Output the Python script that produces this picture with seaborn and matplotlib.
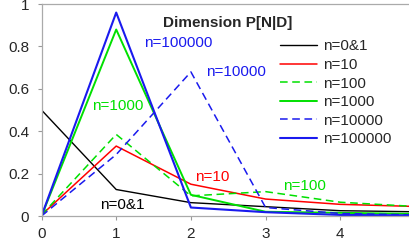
import matplotlib
matplotlib.use("Agg")
import matplotlib.pyplot as plt
import seaborn as sns

# number of dimensions (x axis)
dims = [0, 1, 2, 3, 4, 5]

# P[N|D] per sample size n
p_n0_1 = [0.50, 0.125, 0.063, 0.044, 0.025, 0.020]
p_n10 = [0.005, 0.33, 0.150, 0.080, 0.055, 0.045]
p_n100 = [0.005, 0.385, 0.095, 0.115, 0.065, 0.045]
p_n1000 = [0.0, 0.88, 0.100, 0.020, 0.015, 0.010]
p_n10000 = [0.0, 0.29, 0.68, 0.040, 0.012, 0.005]
p_n100000 = [0.0, 0.96, 0.040, 0.018, 0.005, 0.003]

labels = ["n=0&1", "n=10", "n=100", "n=1000", "n=10000", "n=100000"]
series = [p_n0_1, p_n10, p_n100, p_n1000, p_n10000, p_n100000]
colors = ["black", "#ff0000", "#00e000", "#00e000", "#1a1aee", "#1a1aee"]
styles = ["-", "-", (0, (5, 3)), "-", (0, (5, 3)), "-"]
widths = [1.0, 1.1, 1.1, 1.4, 1.1, 1.5]

sns.set_style("white")
plt.rcParams["font.family"] = ["Liberation Sans", "DejaVu Sans"]

fig = plt.figure(figsize=(4.09, 2.40), dpi=100)
ax = fig.add_axes([0.1015, 0.10, 0.8985, 0.883])

for vals, lab, col, ls, lw in zip(series, labels, colors, styles, widths):
    sns.lineplot(x=dims, y=vals, color=col, linestyle=ls, linewidth=lw,
                 label=lab, ax=ax)

ax.set_xlim(0, 4.92)
ax.set_ylim(0, 1)
ax.set_xticks([0, 1, 2, 3, 4])
ax.set_yticks([0, 0.2, 0.4, 0.6, 0.8, 1])
ax.set_yticklabels(["0", "0.2", "0.4", "0.6", "0.8", "1"])
ax.tick_params(axis="both", labelsize=11, length=3, width=0.8,
               color="#999999", direction="out", left=True, bottom=True)
ax.tick_params(axis="y", pad=6)
ax.tick_params(axis="x", pad=5)
for side in ["left", "bottom", "top"]:
    ax.spines[side].set_color("#aaaaaa")
    ax.spines[side].set_linewidth(0.9)
ax.spines["right"].set_visible(False)

# annotations
ax.text(1.62, 0.91, "Dimension P[N|D]", fontsize=11, fontweight="bold",
        va="center", ha="left")
ax.text(1.37, 0.815, "n=100000", color="#1a1aee", fontsize=11, va="center")
ax.text(2.2, 0.678, "n=10000", color="#1a1aee", fontsize=11, va="center")
ax.text(0.675, 0.52, "n=1000", color="#00e000", fontsize=11, va="center")
ax.text(2.05, 0.185, "n=10", color="#ff0000", fontsize=11, va="center")
ax.text(3.24, 0.142, "n=100", color="#00e000", fontsize=11, va="center")
ax.text(0.78, 0.052, "n=0&1", color="black", fontsize=11, va="center")

ax.legend(loc="upper left", bbox_to_anchor=(0.685, 0.836),
          bbox_transform=fig.transFigure, frameon=False, fontsize=11,
          handlelength=2.4, handletextpad=0.4, labelspacing=0.3,
          borderpad=0, borderaxespad=0)

fig.savefig("out.png", dpi=100)
plt.close(fig)
